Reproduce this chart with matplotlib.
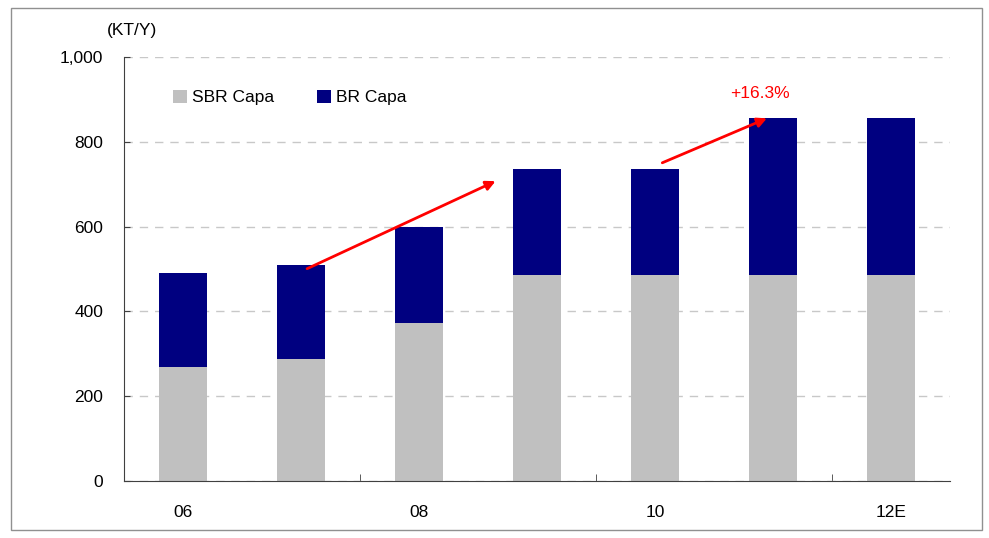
import matplotlib
matplotlib.use('Agg')
import matplotlib.pyplot as plt
from matplotlib.patches import Rectangle

plt.rcParams['font.family'] = ['Liberation Sans', 'DejaVu Sans']

years = ['06', '07', '08', '09', '10', '11', '12E']
sbr = [270, 288, 373, 485, 485, 485, 485]
br = [220, 222, 227, 250, 250, 372, 372]
tick_labels = ['06', '', '08', '', '10', '', '12E']

fs = 12.5

fig = plt.figure(figsize=(9.89, 5.38), dpi=100)
ax = fig.add_axes([0.1254, 0.1059, 0.8352, 0.7881])

x = range(len(years))
ax.bar(x, sbr, width=0.4, color='#C0C0C0', label='SBR Capa', zorder=2)
ax.bar(x, br, width=0.4, bottom=sbr, color='#000080', label='BR Capa', zorder=2)

ax.set_xlim(-0.5, len(years) - 0.5)
ax.set_ylim(0, 1000)
ax.set_yticks(range(0, 1001, 200))
ax.set_yticklabels(['{:,}'.format(v) for v in range(0, 1001, 200)], fontsize=fs)
ax.yaxis.grid(True, linestyle=(0, (6, 5)), color='#C8C8C8', linewidth=1, zorder=0)

# category labels sit under the bars, tick marks at every second boundary
ax.set_xticks(list(x))
ax.set_xticklabels(tick_labels, fontsize=fs)
ax.tick_params(axis='x', length=0, pad=17)
ax.set_xticks([1.5, 3.5, 5.5], minor=True)
ax.tick_params(axis='x', which='minor', direction='in', length=5, color='#404040')
ax.tick_params(axis='y', direction='in', length=4, color='#404040', pad=15)

for s in ['top', 'right']:
    ax.spines[s].set_visible(False)
ax.spines['left'].set_color('#404040')
ax.spines['bottom'].set_color('#404040')

ax.text(-0.43, 1062, '(KT/Y)', fontsize=fs, ha='center', va='center')

ax.legend(loc='upper left', bbox_to_anchor=(0.04, 0.96), ncol=2, frameon=False,
          fontsize=fs, handlelength=0.8, handleheight=0.8, handletextpad=0.3,
          columnspacing=2.5)

ax.annotate('', xy=(2.67, 710), xytext=(1.03, 498),
            arrowprops=dict(arrowstyle='-|>', color='red', lw=2, mutation_scale=14))
ax.annotate('', xy=(4.97, 858), xytext=(4.04, 748),
            arrowprops=dict(arrowstyle='-|>', color='red', lw=2, mutation_scale=14))
ax.text(4.89, 913, '+16.3%', color='red', fontsize=fs, ha='center', va='center')

fig.patches.append(Rectangle((0.011, 0.015), 0.982, 0.97, transform=fig.transFigure,
                             fill=False, edgecolor='#909090', linewidth=1))

fig.savefig('out.png', dpi=100)
